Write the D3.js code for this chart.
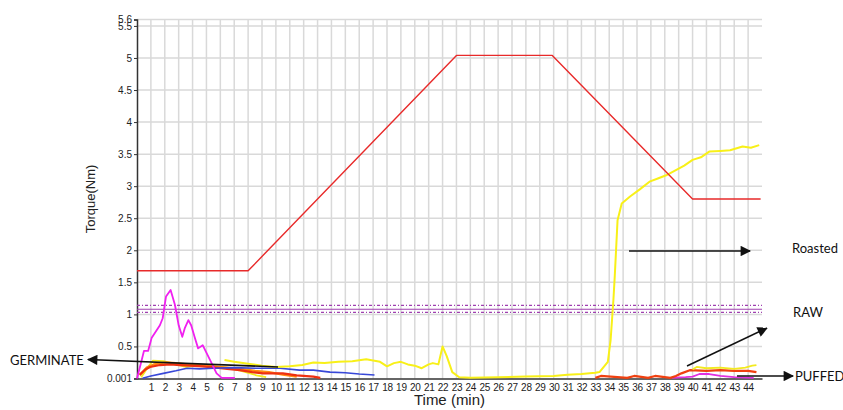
<!DOCTYPE html>
<html>
<head>
<meta charset="utf-8">
<script src="https://cdn.jsdelivr.net/npm/d3@7"></script>
<style>
  body { margin: 0; background: #fff; }
  svg { display: block; font-family: "Liberation Sans", Arial, sans-serif; }
</style>
</head>
<body>
<svg id="chart" width="843" height="410"></svg>
<script>
// tick labels
const xTicks = d3.range(1, 45);
const yTicks = [0.001, 0.5, 1, 1.5, 2, 2.5, 3, 3.5, 4, 4.5, 5, 5.5, 5.6];

// set profile (red)
const profileTime = [0, 8, 23, 29.9, 40, 44.9];
const profileTorque = [1.68, 1.68, 5.04, 5.04, 2.8, 2.8];

// RAW reference lines (purple)
const rawLevels = [1.14, 1.08, 1.03];

// roasted (yellow)
const roastTime = [6.3, 7, 8, 9, 10, 11, 11.9, 12.7, 13.5, 14.5, 15.5, 16.5, 17, 17.5, 18, 18.5, 19, 19.5, 20, 20.5, 21, 21.3, 21.7, 22, 22.3, 22.7, 23.2, 24, 26, 28, 30, 31, 32, 33, 33.3, 33.9, 34.1, 34.3, 34.4, 34.6, 34.9, 35.5, 36.2, 36.9, 37.5, 38.1, 38.8, 39.4, 40, 40.6, 41.2, 42, 42.7, 43.6, 44.2, 44.8];
const roastTorque = [0.29, 0.26, 0.23, 0.2, 0.18, 0.19, 0.21, 0.25, 0.24, 0.26, 0.27, 0.3, 0.28, 0.26, 0.19, 0.24, 0.26, 0.22, 0.2, 0.16, 0.22, 0.24, 0.22, 0.5, 0.35, 0.1, 0.02, 0.01, 0.02, 0.03, 0.04, 0.06, 0.07, 0.09, 0.1, 0.26, 0.6, 1.22, 1.6, 2.47, 2.73, 2.84, 2.95, 3.07, 3.12, 3.17, 3.25, 3.32, 3.41, 3.45, 3.54, 3.55, 3.56, 3.62, 3.6, 3.64];

// germinate (magenta)
const germTime = [0, 0.34, 0.5, 0.8, 1.05, 1.65, 1.85, 2.09, 2.42, 2.73, 3.0, 3.26, 3.45, 3.7, 3.9, 4.17, 4.4, 4.73, 4.96, 5.37, 5.73, 6.1, 7.05];
const germTorque = [0, 0.29, 0.43, 0.43, 0.63, 0.83, 0.94, 1.28, 1.38, 1.15, 0.83, 0.65, 0.79, 0.91, 0.83, 0.63, 0.47, 0.52, 0.42, 0.24, 0.08, 0.01, 0.01];

// other low runs
const blueTime = [0.4, 1, 1.9, 2.8, 3.6, 4.5, 5.5, 7, 8.5, 10.3, 11.7, 12.7, 13.9, 15, 16, 17.1];
const blueTorque = [0.005, 0.04, 0.08, 0.12, 0.16, 0.15, 0.16, 0.17, 0.16, 0.16, 0.13, 0.13, 0.1, 0.09, 0.07, 0.055];

const redLowTime = [0.2, 0.6, 0.94, 1.65, 2.4, 3.1, 3.8, 4.7, 5.7, 6.5, 7.4, 8.3, 9.1, 10.5, 11.5, 12.7, 13.2];
const redLowTorque = [0.06, 0.14, 0.18, 0.21, 0.22, 0.21, 0.2, 0.19, 0.17, 0.15, 0.13, 0.1, 0.08, 0.08, 0.05, 0.03, 0.01];

const orangeTime = [0.2, 0.7, 1.2, 2, 2.8, 3.6, 4.5, 5.5, 6.5, 7.5, 8.5, 9.5, 10.5, 11.5];
const orangeTorque = [0.05, 0.17, 0.22, 0.25, 0.24, 0.22, 0.21, 0.19, 0.17, 0.15, 0.12, 0.1, 0.06, 0.03];

const yellowLowTime = [0.3, 0.8, 1.15, 1.9, 2.5, 3.5, 4.5, 5.5, 6.5, 7.5, 8.6, 9.3];
const yellowLowTorque = [0.02, 0.18, 0.28, 0.27, 0.24, 0.18, 0.2, 0.19, 0.17, 0.12, 0.05, 0.02];

// puffed (end of run)
const puffRedTime = [33, 33.4, 35.3, 35.8, 36.8, 37.3, 38.4, 38.8, 39.2, 39.8, 41, 42, 43, 44, 44.6];
const puffRedTorque = [0.01, 0.04, 0.01, 0.04, 0.01, 0.04, 0.01, 0.04, 0.08, 0.13, 0.12, 0.13, 0.12, 0.12, 0.1];
const puffYellowTime = [40, 40.3, 41, 42, 43, 43.8, 44.3, 44.6];
const puffYellowTorque = [0.14, 0.18, 0.16, 0.17, 0.15, 0.17, 0.2, 0.21];
const puffPinkTime = [38.5, 39.5, 40, 40.5, 41.2, 42, 43, 44.4];
const puffPinkTorque = [0.01, 0.02, 0.03, 0.07, 0.07, 0.04, 0.02, 0.01];

const svg = d3.select("#chart");
const margin = { left: 137, right: 81, top: 19.5, bottom: 31.5 };
const W = 843, H = 410;

const x = d3.scaleLinear().domain([0, 45]).range([margin.left, W - margin.right]);
const y = d3.scaleLinear().domain([0, 5.6]).range([H - margin.bottom, margin.top]);

// grid
svg.append("g").selectAll("line")
  .data(xTicks)
  .join("line")
  .attr("x1", d => x(d)).attr("x2", d => x(d))
  .attr("y1", y(5.6)).attr("y2", y(0))
  .attr("stroke", "#d9d9d9").attr("stroke-width", 1.5);

svg.append("g").selectAll("line")
  .data(yTicks.filter(d => d > 0.01))
  .join("line")
  .attr("x1", x(0)).attr("x2", x(45))
  .attr("y1", d => y(d)).attr("y2", d => y(d))
  .attr("stroke", "#d9d9d9").attr("stroke-width", 1.5);

// axes
const yAxis = svg.append("g")
  .attr("transform", `translate(${x(0)},0)`)
  .call(d3.axisLeft(y).tickValues(yTicks).tickSize(3).tickPadding(2)
    .tickFormat(d => d === 0.001 ? "0.001" : d3.format("")(d)));
yAxis.select(".domain").attr("stroke", "#333").attr("stroke-width", 1.5);
yAxis.selectAll(".tick line").attr("stroke", "#333");
yAxis.selectAll("text").attr("font-size", 10).attr("fill", "#222");

const xAxis = svg.append("g")
  .attr("transform", `translate(0,${y(0)})`)
  .call(d3.axisBottom(x).tickValues(xTicks).tickSize(0).tickPadding(5).tickFormat(d3.format("d")));
xAxis.select(".domain").attr("stroke", "#333").attr("stroke-width", 1.5);
xAxis.selectAll("text").attr("font-size", 10).attr("fill", "#222").attr("letter-spacing", "-0.3px");

// axis titles
svg.append("text")
  .attr("x", (x(0) + x(45)) / 2).attr("y", 405)
  .attr("text-anchor", "middle").attr("font-size", 15).attr("fill", "#222")
  .text("Time (min)");
svg.append("text")
  .attr("transform", `translate(95,${(y(0) + y(5.6)) / 2}) rotate(-90)`)
  .attr("text-anchor", "middle").attr("font-size", 13).attr("fill", "#222")
  .text("Torque(Nm)");

// RAW lines
svg.append("g").selectAll("line")
  .data(rawLevels)
  .join("line")
  .attr("x1", x(0)).attr("x2", x(45))
  .attr("y1", d => y(d)).attr("y2", d => y(d))
  .attr("stroke", "#a040b0").attr("stroke-width", 1.2)
  .attr("stroke-dasharray", (d, i) => i === 1 ? null : "3,2,1,2");

const line = d3.line().x(d => x(d[0])).y(d => y(d[1]));
function drawSeries(ts, vs, color, w) {
  svg.append("path")
    .datum(d3.zip(ts, vs))
    .attr("d", line)
    .attr("fill", "none")
    .attr("stroke", color)
    .attr("stroke-width", w)
    .attr("stroke-linejoin", "round");
}

drawSeries(yellowLowTime, yellowLowTorque, "#f2ea20", 1.8);
drawSeries(orangeTime, orangeTorque, "#ff8c10", 2.2);
drawSeries(redLowTime, redLowTorque, "#ee3010", 2.2);
drawSeries(blueTime, blueTorque, "#3848d8", 1.6);
drawSeries(germTime, germTorque, "#f020f0", 1.8);
drawSeries(roastTime, roastTorque, "#f8f018", 2);
drawSeries(puffPinkTime, puffPinkTorque, "#e030e0", 1.8);
drawSeries(puffRedTime, puffRedTorque, "#f04010", 2.2);
drawSeries(puffYellowTime, puffYellowTorque, "#f2ea20", 1.8);
drawSeries(profileTime, profileTorque, "#e82a2a", 1.4);

// annotations
svg.append("defs").append("marker")
  .attr("id", "head")
  .attr("viewBox", "0 0 10 10")
  .attr("refX", 9).attr("refY", 5)
  .attr("markerWidth", 8).attr("markerHeight", 6.5)
  .attr("markerUnits", "strokeWidth")
  .attr("orient", "auto")
  .append("path").attr("d", "M0,0 L10,5 L0,10 Z").attr("fill", "#111");

const arrows = [
  [278, 367, 88, 359.5],
  [629, 251, 750, 251],
  [687, 366, 767, 328],
  [737, 376, 793, 376]
];
svg.append("g").selectAll("line")
  .data(arrows)
  .join("line")
  .attr("x1", d => d[0]).attr("y1", d => d[1])
  .attr("x2", d => d[2]).attr("y2", d => d[3])
  .attr("stroke", "#111").attr("stroke-width", 1.6)
  .attr("marker-end", "url(#head)");

const labels = [
  ["GERMINATE", 10, 365],
  ["Roasted", 792, 253],
  ["RAW", 793, 317],
  ["PUFFED", 795, 381]
];
svg.append("g").selectAll("text")
  .data(labels)
  .join("text")
  .attr("x", d => d[1]).attr("y", d => d[2])
  .attr("font-family", "Lato, 'Liberation Sans', sans-serif")
  .attr("font-size", 13).attr("fill", "#111")
  .text(d => d[0]);
</script>
</body>
</html>
